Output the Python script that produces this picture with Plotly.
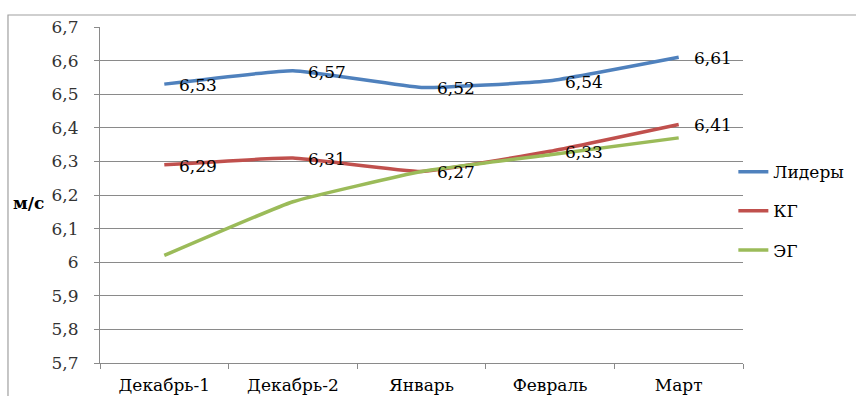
import plotly.graph_objects as go

# Speed by period, m/s
periods = ["Декабрь-1", "Декабрь-2", "Январь", "Февраль", "Март"]
leaders = [6.53, 6.57, 6.52, 6.54, 6.61]
control = [6.29, 6.31, 6.27, 6.33, 6.41]
experimental = [6.02, 6.18, 6.27, 6.32, 6.37]

y_ticks = [5.7, 5.8, 5.9, 6.0, 6.1, 6.2, 6.3, 6.4, 6.5, 6.6, 6.7]
y_tick_text = ["5,7", "5,8", "5,9", "6", "6,1", "6,2", "6,3", "6,4", "6,5", "6,6", "6,7"]

series = [
    ("Лидеры", leaders, "#4F81BD", True),
    ("КГ", control, "#C0504D", True),
    ("ЭГ", experimental, "#9BBB59", False),
]

FONT = "DejaVu Serif"
FS = 17
GRID = "#8a8a8a"

fig = go.Figure()
annotations = []
for i, (name, vals, color, labelled) in enumerate(series):
    fig.add_trace(go.Scatter(
        x=periods, y=vals, name=name, mode="lines",
        line=dict(color=color, width=3.5, shape="spline", smoothing=0.35),
        legendgroup=name,
    ))
    if labelled:
        for p, v in zip(periods, vals):
            annotations.append(dict(
                x=p, y=v, xref="x", yref="y",
                text=f"{v:.2f}".replace(".", ","),
                showarrow=False, xanchor="left", yanchor="middle",
                xshift=13, yshift=-1,
                font=dict(family=FONT, size=FS, color="#000000"),
            ))

# axis unit label
annotations.append(dict(
    x=-0.138, y=0.476, xref="paper", yref="paper",
    text="<b>м/с</b>", showarrow=False, xanchor="left", yanchor="middle",
    font=dict(family=FONT, size=17, color="#000000"),
))

fig.update_layout(
    width=856, height=396,
    margin=dict(l=100, r=113, t=27, b=33, pad=0, autoexpand=False),
    paper_bgcolor="white", plot_bgcolor="white",
    font=dict(family=FONT, size=FS, color="#000000"),
    showlegend=True,
    legend=dict(
        x=0.985, y=0.452, xanchor="left", yanchor="middle",
        font=dict(family=FONT, size=FS, color="#000000"),
        traceorder="grouped", tracegroupgap=14,
        bgcolor="rgba(0,0,0,0)", itemwidth=30,
    ),
    annotations=annotations,
    shapes=[dict(
        type="rect", xref="paper", yref="paper",
        x0=-0.1431, x1=1.4, y0=-0.3, y1=1.0357,
        line=dict(color="#a0a0a0", width=1.2),
        layer="below",
    )],
)

fig.update_xaxes(
    type="category", range=[-0.5, 4.5], automargin=False,
    showline=True, linecolor=GRID, linewidth=1.2,
    ticks="outside", tickson="boundaries", ticklen=5, tickcolor=GRID,
    showgrid=False, zeroline=False,
    tickfont=dict(family=FONT, size=FS, color="#000000"),
    ticklabelstandoff=6,
)
fig.update_yaxes(
    range=[5.7, 6.7], tickvals=y_ticks, ticktext=y_tick_text, automargin=False,
    showline=True, linecolor=GRID, linewidth=1.2,
    ticks="outside", ticklen=5, tickcolor=GRID,
    showgrid=True, gridcolor=GRID, gridwidth=1.2, zeroline=False,
    tickfont=dict(family=FONT, size=FS, color="#333333"),
    ticklabelstandoff=12,
)

fig.write_html("out.html")
